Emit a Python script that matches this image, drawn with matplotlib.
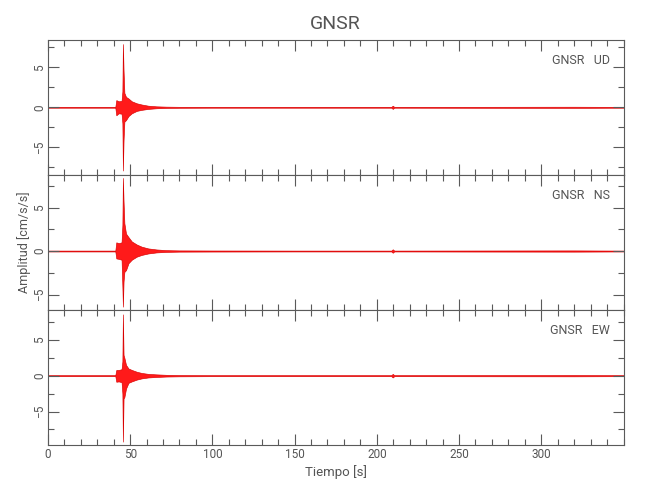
import matplotlib
matplotlib.use("Agg")
import matplotlib.pyplot as plt
from matplotlib.ticker import MultipleLocator

plt.rcParams['font.family'] = ['Roboto', 'DejaVu Sans']

# ---- data (envelope of the accelerograms) ----
station = "GNSR"
components = ["UD", "NS", "EW"]
time_s = [0, 41.0, 41.6, 43.0, 44.8, 45.3, 45.6, 46.0, 46.5, 47.5, 49.0, 51.0,
          54.0, 57.0, 61.0, 66.0, 72.0, 80.0, 100.0, 150.0, 208.8, 209.7,
          210.6, 260.0, 320.0, 350.0]

ud_upper = [0.05, 0.05, 0.9, 0.75, 0.8, 2.0, 7.9, 4.6, 1.8, 1.3, 1.1, 0.75, 0.5,
            0.35, 0.2, 0.12, 0.08, 0.06, 0.05, 0.05, 0.05, 0.2, 0.05, 0.06, 0.07, 0.05]
ud_lower = [-0.05, -0.05, -1.0, -0.75, -0.8, -2.0, -7.9, -4.1, -1.8, -1.6, -1.1, -0.75,
            -0.45, -0.32, -0.2, -0.12, -0.08, -0.06, -0.05, -0.05, -0.05, -0.2, -0.05,
            -0.06, -0.07, -0.05]

ns_upper = [0.05, 0.05, 1.0, 0.9, 1.0, 3.0, 8.4, 5.7, 3.2, 2.0, 1.6, 1.1, 0.75, 0.5,
            0.3, 0.18, 0.1, 0.07, 0.06, 0.05, 0.05, 0.2, 0.05, 0.06, 0.07, 0.05]
ns_lower = [-0.05, -0.05, -0.85, -0.9, -1.0, -4.1, -6.4, -3.5, -2.4, -2.2, -1.4, -1.0,
            -0.65, -0.45, -0.28, -0.16, -0.1, -0.07, -0.06, -0.05, -0.05, -0.2, -0.05,
            -0.06, -0.07, -0.05]

ew_upper = [0.07, 0.07, 0.8, 0.8, 0.9, 2.0, 8.55, 2.9, 2.5, 1.5, 1.0, 0.8, 0.55, 0.38,
            0.25, 0.18, 0.12, 0.09, 0.07, 0.07, 0.07, 0.25, 0.07, 0.08, 0.09, 0.07]
ew_lower = [-0.07, -0.07, -0.85, -0.8, -0.9, -2.5, -9.2, -3.2, -3.0, -1.8, -1.0, -0.8,
            -0.55, -0.38, -0.25, -0.18, -0.12, -0.09, -0.07, -0.07, -0.07, -0.25, -0.07,
            -0.08, -0.09, -0.07]

y_limits = [(-8.46, 8.41), (-6.78, 8.74), (-9.67, 9.16)]
x_limits = (0, 350)
x_ticks = [0, 50, 100, 150, 200, 250, 300]
y_ticks = [-5, 0, 5]

uppers = [ud_upper, ns_upper, ew_upper]
lowers = [ud_lower, ns_lower, ew_lower]

# ---- figure ----
fig = plt.figure(figsize=(6.5, 5), dpi=100)
axcol = '#5a5a5a'
txtcol = '#555555'
trace_col = '#ff1a1a'

left = 47.9 / 650
width = 575.6 / 650
tops_px = [40, 175, 310]
h_px = 135

axes = []
for i in range(3):
    bottom = 1 - (tops_px[i] + h_px) / 500
    ax = fig.add_axes([left, bottom, width, h_px / 500])
    axes.append(ax)
    ax.fill_between(time_s, lowers[i], uppers[i], color=trace_col,
                    linewidth=0.45, edgecolor='#d80000')
    ax.set_xlim(*x_limits)
    ax.set_ylim(*y_limits[i])
    ax.set_xticks(x_ticks)
    ax.xaxis.set_minor_locator(MultipleLocator(10))
    ax.set_yticks(y_ticks)
    ax.yaxis.set_minor_locator(MultipleLocator(2.5))
    ax.tick_params(which='both', direction='in', top=True, right=True,
                   color=axcol, labelcolor=txtcol, labelsize=8.5, width=0.8)
    ax.tick_params(which='major', length=8)
    ax.tick_params(which='minor', length=4)
    ax.tick_params(axis='y', labelrotation=90, pad=1)
    ax.tick_params(axis='x', pad=2)
    for lab in ax.get_yticklabels():
        lab.set_va('center')
    for s in ax.spines.values():
        s.set_color(axcol)
        s.set_linewidth(0.8)
    ax.text(0.977, 0.845, f"{station}   {components[i]}", transform=ax.transAxes,
            ha='right', va='center', fontsize=9, color=txtcol)
    if i < 2:
        ax.tick_params(labelbottom=False)

axes[0].set_title(station, fontsize=14, color=txtcol, pad=8)
axes[1].set_ylabel("Amplitud [cm/s/s]", fontsize=9, color=txtcol)
axes[1].yaxis.set_label_coords(-0.0285, 0.5)
axes[2].set_xlabel("Tiempo [s]", fontsize=9.5, color=txtcol, labelpad=3)

fig.savefig("out.png", dpi=100)
